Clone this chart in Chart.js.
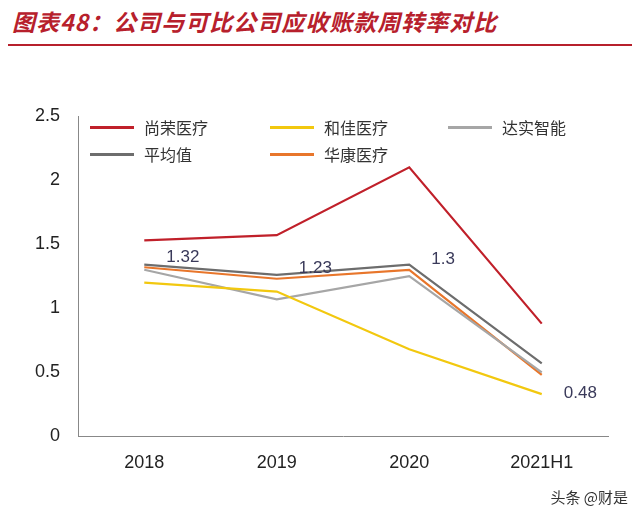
<!DOCTYPE html>
<html><head><meta charset="utf-8">
<script src="https://cdn.jsdelivr.net/npm/chart.js@4/dist/chart.umd.min.js"></script>
<style>
body{margin:0;width:640px;height:515px;background:#fff;font-family:"Noto Sans CJK SC",sans-serif;position:relative;overflow:hidden}
#title{position:absolute;left:12px;top:4px;font-size:23px;font-weight:bold;font-style:italic;color:#b7202c;letter-spacing:1px}
#rule{position:absolute;left:8px;top:44px;width:624px;height:2px;background:#b7202c}
#wrap{position:absolute;left:0;top:60px;width:640px;height:440px}
#legend{position:absolute;left:90px;top:115px;width:520px;font-size:16px;color:#333}
.it{position:absolute;display:flex;align-items:center}
.it span{display:inline-block;width:44px;height:3px;margin-right:10px}
#wm{position:absolute;right:12px;bottom:8px;font-size:15px;color:#333}
</style></head><body>
<div id="title">图表48：公司与可比公司应收账款周转率对比</div>
<div id="rule"></div>
<div id="wrap"><canvas id="c" width="640" height="440"></canvas></div>
<div id="legend"></div>
<div id="wm">头条 @财是</div>
<script>
const categories = ["2018", "2019", "2020", "2021H1"];
const seriesNames = ["尚荣医疗", "和佳医疗", "达实智能", "平均值", "华康医疗"];
const shangrong = [1.53, 1.57, 2.10, 0.88];
const hejia = [1.20, 1.13, 0.68, 0.33];
const dashi = [1.30, 1.07, 1.25, 0.50];
const average = [1.34, 1.26, 1.34, 0.57];
const huakang = [1.32, 1.23, 1.30, 0.48];
const yTicks = [0, 0.5, 1, 1.5, 2, 2.5];
const colors = ["#c0202a", "#f2c80f", "#a6a6a6", "#6d6d6d", "#e8762b"];
const allData = [shangrong, hejia, dashi, average, huakang];

const legendPos = [[0,0],[180,0],[358,0],[0,27],[180,27]];
const lg = document.getElementById("legend");
seriesNames.forEach((n, i) => {
    const d = document.createElement("div");
    d.className = "it";
    d.style.left = legendPos[i][0] + "px";
    d.style.top = legendPos[i][1] + "px";
    d.innerHTML = '<span style="background:' + colors[i] + '"></span>' + n;
    lg.appendChild(d);
});

const labelPlugin = {
    id: "labels",
    afterDatasetsDraw(chart) {
        const ctx = chart.ctx;
        const meta = chart.getDatasetMeta(4);
        ctx.save();
        ctx.font = "17px 'Liberation Sans', Arial";
        ctx.fillStyle = "#3a3a5a";
        ctx.textBaseline = "middle";
        meta.data.forEach((p, i) => {
            const dy = i === 3 ? 18 : -10;
            ctx.fillText(String(huakang[i]), p.x + 22, p.y + dy);
        });
        ctx.restore();
    }
};

new Chart(document.getElementById("c"), {
    type: "line",
    data: {
        labels: categories,
        datasets: seriesNames.map((n, i) => ({
            label: n,
            data: allData[i],
            borderColor: colors[i],
            borderWidth: 2.2,
            pointRadius: 0,
            tension: 0
        }))
    },
    options: {
        responsive: false,
        animation: false,
        layout: { padding: { left: 25, right: 32, top: 56, bottom: 10 } },
        plugins: { legend: { display: false }, tooltip: { enabled: false } },
        scales: {
            x: {
                offset: true,
                grid: { display: false, drawTicks: false },
                border: { color: "#888" },
                ticks: { color: "#222", font: { size: 18, family: "Liberation Sans" }, padding: 16 }
            },
            y: {
                min: 0, max: 2.5,
                afterBuildTicks: s => { s.ticks = yTicks.map(v => ({ value: v })); },
                grid: { display: false },
                border: { color: "#888" },
                ticks: { color: "#222", font: { size: 18, family: "Liberation Sans" }, padding: 10, callback: v => String(v) }
            }
        }
    },
    plugins: [labelPlugin]
});
</script>
</body></html>
